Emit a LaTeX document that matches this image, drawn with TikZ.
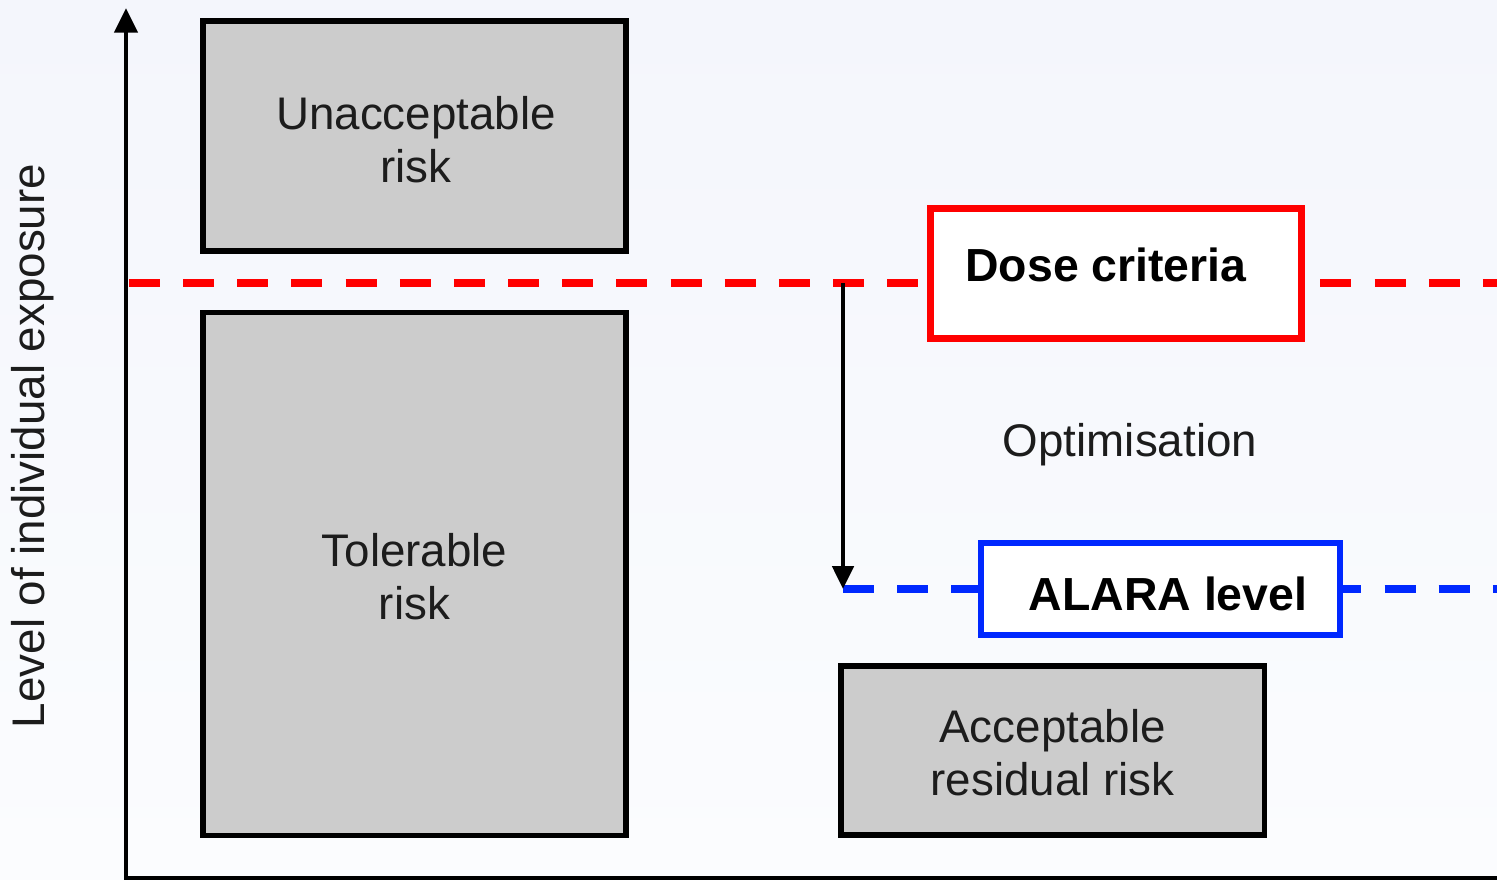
\documentclass[tikz,border=0pt]{standalone}
\usepackage{fontspec}
\setmainfont{Liberation Sans}
\usetikzlibrary{arrows.meta}
\begin{document}
\begin{tikzpicture}[x=0.01cm,y=-0.01cm,
  txt/.style={font=\fontsize{13}{15}\selectfont, align=center, inner sep=0pt, text=txtgray},
  btxt/.style={font=\fontsize{13.2}{15}\selectfont\bfseries, inner sep=0pt},
  riskbox/.style={draw=black, line width=1.5pt, fill={rgb,255:red,204;green,204;blue,204}, inner sep=0pt},
  dashline/.style={line width=2pt, dash pattern=on 8.8pt off 6.6pt},
  axis/.style={line width=1.4pt, -{Triangle[width=6.5pt,length=7pt]}}
]
\definecolor{bgtop}{RGB}{244,246,252}
\definecolor{bgbot}{RGB}{251,252,254}
\definecolor{doseRed}{RGB}{255,0,0}
\definecolor{alaraBlue}{RGB}{0,40,255}
\definecolor{txtgray}{RGB}{28,28,28}
\useasboundingbox (0,0) rectangle (1497,880);
\shade[top color=bgtop, bottom color=bgbot] (0,0) rectangle (1497,880);

% axes
\coordinate (o) at (126,878);
\coordinate (ytop) at (126,8);
\coordinate (xend) at (1500,878);
\draw[line width=1.4pt] (o) -- (xend);
\draw[axis] (126,882) -- (ytop);

% y label
\node[txt, rotate=90] (ylab) at (33,446) {Level of individual exposure};

% risk boxes
\node[riskbox, minimum width=4.23cm, minimum height=2.30cm] (unacc) at (414.5,136) {};
\node[txt] (unacctxt) at (416,140) {Unacceptable\\risk};
\node[riskbox, minimum width=4.23cm, minimum height=5.22cm] (tol) at (414.5,574) {};
\node[txt] (toltxt) at (414.5,577) {Tolerable\\risk};
\node[riskbox, minimum width=4.23cm, minimum height=1.69cm] (acc) at (1052.5,750.5) {};
\node[txt] (acctxt) at (1052.5,753) {Acceptable\\residual risk};

% dose criteria line
\coordinate (r0) at (129,283);
\coordinate (r1) at (1510,283);
\draw[dashline, doseRed] (r0) -- (r1);
\node[draw=doseRed, fill=white, line width=2pt, minimum width=3.70cm, minimum height=1.29cm, inner sep=0pt] (dose) at (1116,273.5) {};
\node[btxt] (dosetxt) at (1106,265) {Dose criteria};

% ALARA line
\coordinate (d1) at (843,283);
\coordinate (d2) at (843,589);
\draw[dashline, alaraBlue] (d2) -- (1510,589);
\node[draw=alaraBlue, fill=white, line width=1.5pt, minimum width=3.59cm, minimum height=0.92cm, inner sep=0pt] (alara) at (1160.5,589) {};
\node[btxt] (alaratxt) at (1168,594) {ALARA level};

% optimisation arrow
\draw[line width=1.2pt, -{Triangle[width=6pt,length=6.5pt]}] (d1) -- (d2);
\node[txt] (opt) at (1130,445) {Optimisation};
\end{tikzpicture}
\end{document}
